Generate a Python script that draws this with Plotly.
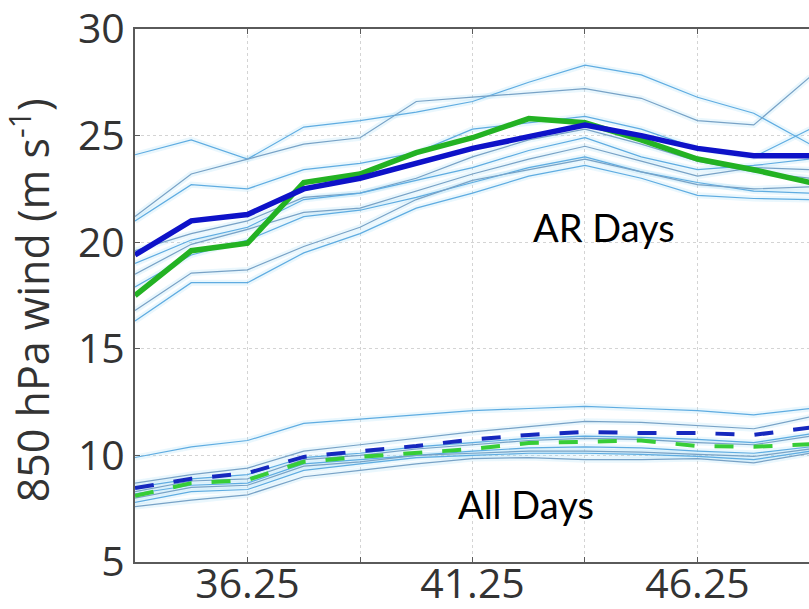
import plotly.graph_objects as go

# Latitude (degrees N) of each sample along the transect
latitude = [33.75, 35.0, 36.25, 37.5, 38.75, 40.0, 41.25, 42.5, 43.75, 45.0, 46.25, 47.5, 48.75]

# Individual model members, atmospheric-river days
ar_members = [
    [24.1, 24.8, 23.9, 25.4, 25.7, 26.1, 26.6, 27.5, 28.3, 27.85, 26.8, 26.05, 24.6],
    [21.2, 23.2, 23.9, 24.6, 24.9, 26.6, 26.8, 27.0, 27.2, 26.75, 25.7, 25.5, 27.75],
    [21.0, 22.7, 22.5, 23.4, 23.7, 24.2, 25.3, 25.6, 25.9, 25.3, 24.4, 24.0, 25.3],
    [19.6, 20.4, 21.0, 22.1, 22.3, 23.0, 24.0, 24.8, 25.3, 24.6, 23.8, 23.3, 23.0],
    [19.0, 20.1, 20.7, 22.0, 22.3, 22.9, 23.5, 24.3, 24.9, 24.0, 23.4, 23.6, 23.9],
    [18.5, 19.9, 20.6, 21.4, 21.6, 22.4, 23.2, 23.9, 24.5, 23.8, 23.1, 23.5, 23.4],
    [17.9, 19.4, 20.1, 21.2, 21.5, 22.1, 22.8, 23.5, 24.0, 23.3, 22.8, 22.4, 22.3],
    [16.8, 18.55, 18.7, 19.8, 20.7, 22.0, 22.9, 23.4, 23.9, 23.3, 22.7, 22.5, 22.6],
    [16.3, 18.1, 18.1, 19.5, 20.4, 21.6, 22.3, 23.1, 23.6, 23.0, 22.2, 22.05, 22.0],
]

# Individual model members, all days
all_members = [
    [9.9, 10.4, 10.7, 11.5, 11.7, 11.9, 12.1, 12.2, 12.3, 12.2, 12.1, 11.9, 12.2],
    [8.7, 9.1, 9.4, 10.2, 10.5, 10.8, 11.1, 11.35, 11.6, 11.55, 11.4, 11.25, 11.8],
    [8.5, 8.9, 9.1, 9.9, 10.1, 10.4, 10.6, 10.8, 10.9, 10.85, 10.75, 10.6, 11.0],
    [8.3, 8.8, 8.9, 9.8, 10.0, 10.3, 10.5, 10.7, 10.8, 10.75, 10.6, 10.5, 10.9],
    [8.2, 8.6, 8.7, 9.6, 9.8, 10.0, 10.2, 10.35, 10.4, 10.35, 10.2, 10.1, 10.4],
    [8.0, 8.5, 8.6, 9.5, 9.7, 10.0, 10.1, 10.2, 10.2, 10.15, 10.05, 9.95, 10.3],
    [7.8, 8.3, 8.4, 9.3, 9.6, 9.9, 10.0, 10.1, 10.1, 10.05, 9.95, 9.8, 10.2],
    [7.6, 7.9, 8.15, 9.0, 9.3, 9.6, 9.85, 9.9, 9.8, 9.8, 9.85, 9.65, 10.1],
]

# Reanalysis (blue) and ensemble mean (green)
ar_reanalysis = [19.4, 21.0, 21.3, 22.5, 23.0, 23.7, 24.4, 24.95, 25.5, 25.0, 24.4, 24.05, 24.05]
ar_ensemble = [17.5, 19.6, 19.95, 22.8, 23.2, 24.2, 24.9, 25.8, 25.6, 24.8, 23.9, 23.4, 22.8]
all_reanalysis = [8.47, 8.9, 9.17, 9.93, 10.2, 10.44, 10.75, 10.96, 11.1, 11.05, 11.05, 10.96, 11.3]
all_ensemble = [8.1, 8.7, 8.85, 9.7, 9.93, 10.1, 10.3, 10.58, 10.63, 10.7, 10.44, 10.4, 10.53]

x_ticks = [36.25, 38.75, 41.25, 43.75, 46.25]
x_tick_text = ["36.25", " ", "41.25", " ", "46.25"]
y_ticks = [5, 10, 15, 20, 25, 30]

fig = go.Figure()

member_colors = ["rgb(95,172,225)", "rgb(120,162,198)"]
for group in (ar_members, all_members):
    for vals in group:
        # soft halo under each member line
        fig.add_trace(go.Scatter(x=latitude, y=vals, mode="lines",
                                 line=dict(color="rgba(150,215,245,0.2)", width=6),
                                 hoverinfo="skip", showlegend=False))
    for i, vals in enumerate(group):
        fig.add_trace(go.Scatter(x=latitude, y=vals, mode="lines",
                                 line=dict(color=member_colors[i % 2], width=1.2),
                                 showlegend=False))

fig.add_trace(go.Scatter(x=latitude, y=ar_ensemble, mode="lines",
                         line=dict(color="rgb(35,178,35)", width=5.5), showlegend=False))
fig.add_trace(go.Scatter(x=latitude, y=ar_reanalysis, mode="lines",
                         line=dict(color="rgb(14,18,200)", width=5.5), showlegend=False))
fig.add_trace(go.Scatter(x=latitude, y=all_ensemble, mode="lines",
                         line=dict(color="rgb(55,205,55)", width=4, dash="19px,20px"),
                         showlegend=False))
fig.add_trace(go.Scatter(x=latitude, y=all_reanalysis, mode="lines",
                         line=dict(color="rgb(22,40,190)", width=4, dash="19px,20px"),
                         showlegend=False))

tick_font = dict(family="Open Sans", size=41, color="#333333")

fig.update_xaxes(range=[33.75, 48.728], tickvals=x_ticks, ticktext=x_tick_text,
                 showgrid=True, gridcolor="#d4d4d4", griddash="dot", gridwidth=1,
                 showline=True, linecolor="#5a5a5a", linewidth=2, mirror="ticks",
                 ticks="inside", ticklen=5, tickcolor="#5a5a5a",
                 tickfont=tick_font, zeroline=False, automargin=False,
                 ticklabeloverflow="allow", ticklabelstandoff=-15)
fig.update_yaxes(range=[5, 30], tickvals=y_ticks,
                 showgrid=True, gridcolor="#d4d4d4", griddash="dot", gridwidth=1,
                 showline=True, linecolor="#5a5a5a", linewidth=2,
                 ticks="inside", ticklen=5, tickcolor="#5a5a5a",
                 tickfont=tick_font, zeroline=False, automargin=False,
                 ticklabeloverflow="allow")

fig.add_annotation(x=-0.155, y=0.49, xref="paper", yref="paper",
                   text="850 hPa wind (m s<sup>-1</sup>)", textangle=-90,
                   showarrow=False, xanchor="center", yanchor="middle",
                   font=dict(family="Open Sans", size=43, color="#333333"))
fig.add_annotation(x=44.17, y=20.71, text="AR Days", showarrow=False,
                   xanchor="center", yanchor="middle",
                   font=dict(family="Lato", size=38, color="black"))
fig.add_annotation(x=42.44, y=7.72, text="All Days", showarrow=False,
                   xanchor="center", yanchor="middle",
                   font=dict(family="Lato", size=38, color="black"))

fig.update_layout(width=809, height=609,
                  margin=dict(l=135, r=0, t=29, b=47),
                  paper_bgcolor="white", plot_bgcolor="white")

fig.write_html("out.html")
